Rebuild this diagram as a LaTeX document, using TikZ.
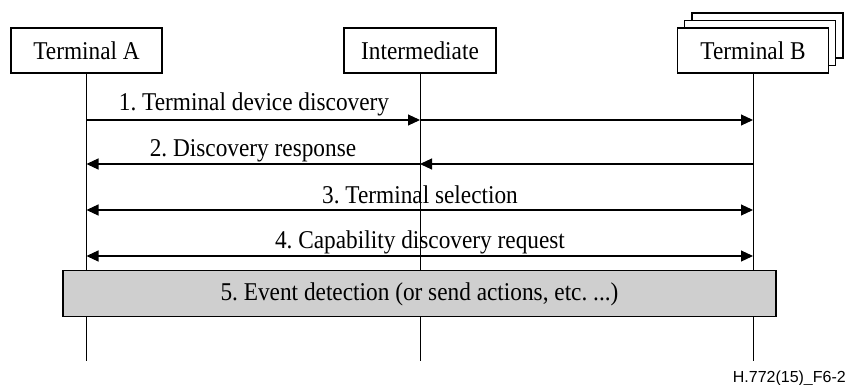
\documentclass[tikz,border=0pt]{standalone}
\usepackage{fontspec}
\setmainfont{Liberation Serif}[FakeStretch=0.91]
\newfontfamily\figsans{Liberation Sans}
\usetikzlibrary{arrows.meta}
\frenchspacing

\tikzset{
  entity/.style={draw, line width=1.1pt, fill=white, minimum width=151pt, minimum height=45pt,
                 inner sep=0pt, text height=19pt, text depth=0pt,
                 font=\fontsize{25.6}{30}\selectfont},
  lifeline/.style={line width=1pt},
  msg/.style={line width=1.1pt, -{Triangle[length=12pt,width=11pt]}},
  dmsg/.style={line width=1.1pt, {Triangle[length=12pt,width=11pt]}-{Triangle[length=12pt,width=11pt]}},
  msglabel/.style={anchor=base, inner sep=0pt, font=\fontsize{25.6}{30}\selectfont},
  eventbox/.style={draw, line width=1.1pt, fill=gray!38, minimum width=713pt, minimum height=46pt,
                   inner sep=0pt},
}

\begin{document}
\begin{tikzpicture}[x=1pt, y=-1pt]
  \useasboundingbox (0,0) rectangle (846,385);

  % stacked boxes behind Terminal B
  \node[entity] (b3) at (767.5,35.5) {};
  \node[entity] (b2) at (760,43) {};

  % participants
  \node[entity] (ta) at (86.5,50.5) {Terminal A};
  \node[entity, minimum width=152pt] (im) at (420,50.5) {Intermediate};
  \node[entity] (tb) at (753,50.5) {Terminal B};

  % lifeline ends
  \coordinate (ae) at (86.5,361);
  \coordinate (ie) at (420,361);
  \coordinate (be) at (753,361);
  \draw[lifeline] (ta.south) -- (ae);
  \draw[lifeline] (im.south) -- (ie);
  \draw[lifeline] (tb.south) -- (be);

  % message anchor points on the lifelines
  \coordinate (a1) at (86.5,120);  \coordinate (i1) at (420,120);  \coordinate (b1) at (753,120);
  \coordinate (a2) at (86.5,164);  \coordinate (i2) at (420,164);  \coordinate (b2p) at (753,164);
  \coordinate (a3) at (86.5,210);  \coordinate (b3p) at (753,210);
  \coordinate (a4) at (86.5,256);  \coordinate (b4) at (753,256);

  % 1. discovery, relayed through the intermediate
  \draw[msg] (a1) -- (i1);
  \draw[msg] (i1) -- (b1);
  \node[msglabel] (l1) at (254,111) {1. Terminal device discovery};

  % 2. response, relayed back
  \draw[msg] (b2p) -- (i2);
  \draw[msg] (i2) -- (a2);
  \node[msglabel] (l2) at (253,157) {2. Discovery response};

  % 3. and 4. end-to-end exchanges
  \draw[dmsg] (a3) -- (b3p);
  \node[msglabel] (l3) at (420,204) {3. Terminal selection};
  \draw[dmsg] (a4) -- (b4);
  \node[msglabel] (l4) at (420,248) {4. Capability discovery request};

  % 5. event detection spanning all lifelines
  \node[eventbox] (ev) at (419.5,293.5) {};
  \node[msglabel] (l5) at (419.5,300) {5. Event detection (or send actions, etc. ...)};

  % figure identifier
  \node[anchor=base east, inner sep=0pt, font=\figsans\fontsize{16}{19}\selectfont] (fid) at (846,382) {H.772(15)\_F6-2};
\end{tikzpicture}
\end{document}
